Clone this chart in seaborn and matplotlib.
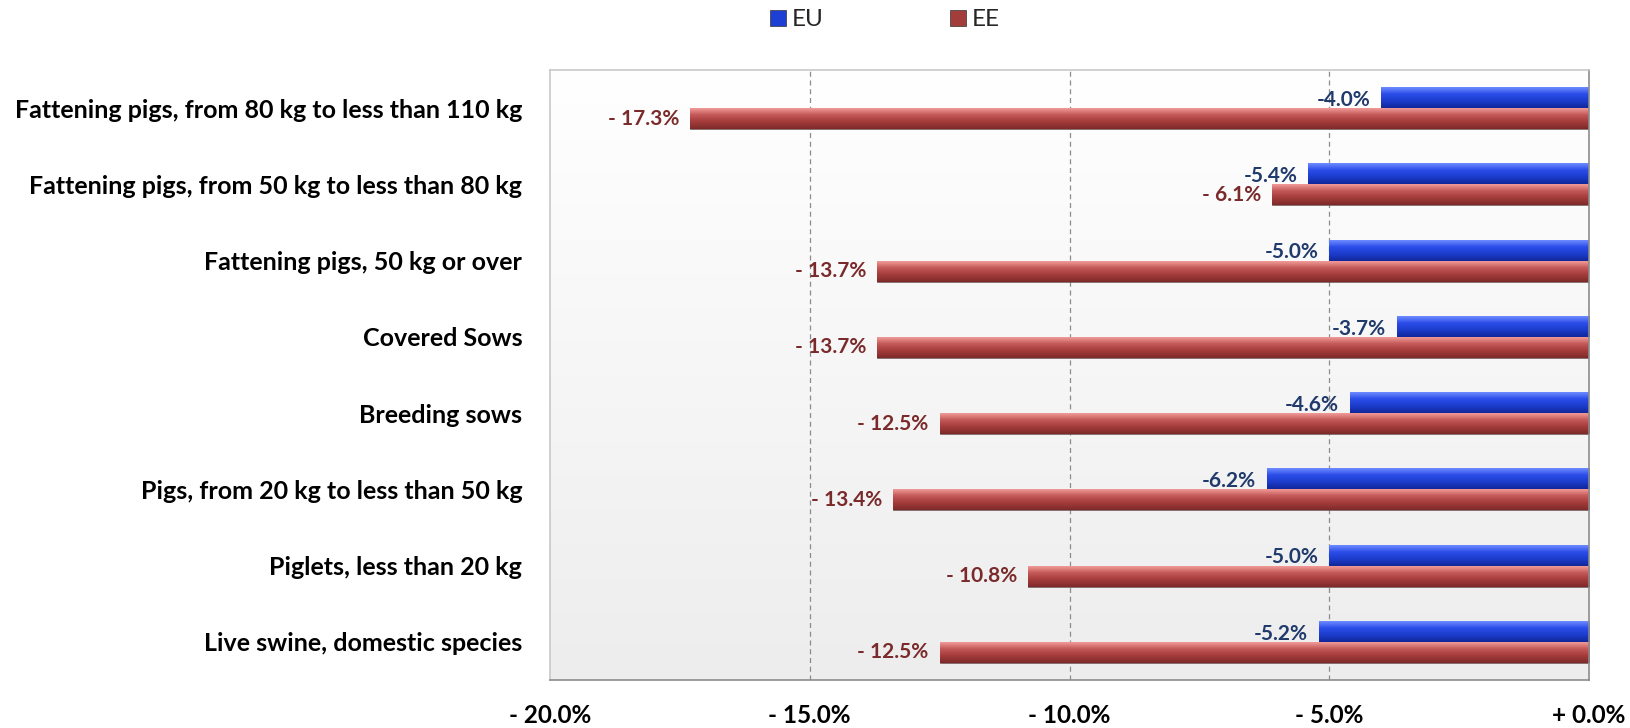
import numpy as np
import pandas as pd
import matplotlib
matplotlib.use("Agg")
import matplotlib.pyplot as plt
import seaborn as sns
from matplotlib.colors import LinearSegmentedColormap

categories = [
    "Fattening pigs, from 80 kg to less than 110 kg",
    "Fattening pigs, from 50 kg to less than 80 kg",
    "Fattening pigs, 50 kg or over",
    "Covered Sows",
    "Breeding sows",
    "Pigs, from 20 kg to less than 50 kg",
    "Piglets, less than 20 kg",
    "Live swine, domestic species",
]
eu_values = [-4.0, -5.4, -5.0, -3.7, -4.6, -6.2, -5.0, -5.2]
ee_values = [-17.3, -6.1, -13.7, -13.7, -12.5, -13.4, -10.8, -12.5]
series = ["EU", "EE"]
x_ticks = [-20, -15, -10, -5, 0]
x_tick_labels = ["- 20.0%", "- 15.0%", "- 10.0%", "- 5.0%", "+ 0.0%"]

sns.set_theme(style="white")
plt.rcParams["font.family"] = ["Lato", "DejaVu Sans"]

df = pd.DataFrame({
    "category": categories * 2,
    "series": ["EU"] * len(categories) + ["EE"] * len(categories),
    "value": eu_values + ee_values,
})

colors = {"EU": "#1E3FD4", "EE": "#A33D3C"}
grad = {
    "EU": ["#6F8BFF", "#2A4DE8", "#1C3CCB", "#10279A"],
    "EE": ["#F09A98", "#C25756", "#A23B3A", "#7E2A2A"],
}

fig = plt.figure(figsize=(16.31, 7.28), dpi=100)
ax = fig.add_axes([550 / 1631, 1 - 680 / 728, (1589 - 550) / 1631, (680 - 70) / 728])

sns.barplot(data=df, y="category", x="value", hue="series", order=categories,
            hue_order=series, palette=colors, orient="h", width=0.55,
            ax=ax, legend=False, linewidth=0, saturation=1)

# background gradient (white at top, light gray at bottom)
bg = np.linspace(0, 1, 256).reshape(-1, 1)
bgcmap = LinearSegmentedColormap.from_list("bg", ["#EDEDED", "#FFFFFF"])
ax.imshow(bg, extent=[0, 1, 0, 1], transform=ax.transAxes, aspect="auto",
          cmap=bgcmap, origin="lower", zorder=0)

# bar gradients
for i, s in enumerate(series):
    cont = ax.containers[i]
    cmap = LinearSegmentedColormap.from_list(s, grad[s])
    for p in cont.patches:
        x0, y0 = p.get_x(), p.get_y()
        w, h = p.get_width(), p.get_height()
        g = np.linspace(0, 1, 64).reshape(-1, 1)
        im = ax.imshow(g, extent=[x0, x0 + w, y0 + h, y0], aspect="auto",
                       cmap=cmap, origin="upper", zorder=p.get_zorder() + 0.1)
        im.set_clip_path(p)
        p.set_edgecolor("#555555")
        p.set_linewidth(0.4)
ax.set_xlim(-20, 0)
ax.set_ylim(7.5, -0.5)

# gridlines
for xv in [-15, -10, -5]:
    ax.axvline(xv, color="#8C8C8C", linestyle=(0, (4, 3)), linewidth=0.9, zorder=0.5)

# labels
for i, s in enumerate(series):
    cont = ax.containers[i]
    for p, v in zip(cont.patches, eu_values if s == "EU" else ee_values):
        yc = p.get_y() + p.get_height() / 2
        if s == "EU":
            txt = f"{v:.1f}%"
            col = "#1F3A6B"
            yc += 0.03
        else:
            txt = f"- {abs(v):.1f}%"
            col = "#7A2A2A"
        ax.annotate(txt, xy=(v, yc), xytext=(-8, 0), textcoords="offset points",
                    ha="right", va="center", fontsize=15, fontweight="bold",
                    color=col, zorder=5)

ax.set_xticks(x_ticks)
ax.set_xticklabels(x_tick_labels, fontsize=17.5, fontweight="bold", color="black")
ax.tick_params(axis="x", pad=17, length=0)
ax.tick_params(axis="y", pad=20, length=0)
for t in ax.get_yticklabels():
    t.set_fontweight("bold")
    t.set_fontsize(18)
    t.set_color("black")
ax.set_xlabel("")
ax.set_ylabel("")

for side in ["top", "left"]:
    ax.spines[side].set_color("#C8C8C8")
for side in ["bottom", "right"]:
    ax.spines[side].set_color("#8C8C8C")
for sp in ax.spines.values():
    sp.set_linewidth(1.2)
    sp.set_visible(True)

handles = [plt.Rectangle((0, 0), 1, 1, facecolor=colors[s], edgecolor="#333333", linewidth=0.5)
           for s in series]
fig.legend(handles, series, loc="center", bbox_to_anchor=(885 / 1631, 1 - 20 / 728),
           ncol=2, frameon=False, fontsize=17.5, columnspacing=5.2, handlelength=0.65,
           handleheight=0.65, handletextpad=0.25)

fig.savefig("out.png", dpi=100)
